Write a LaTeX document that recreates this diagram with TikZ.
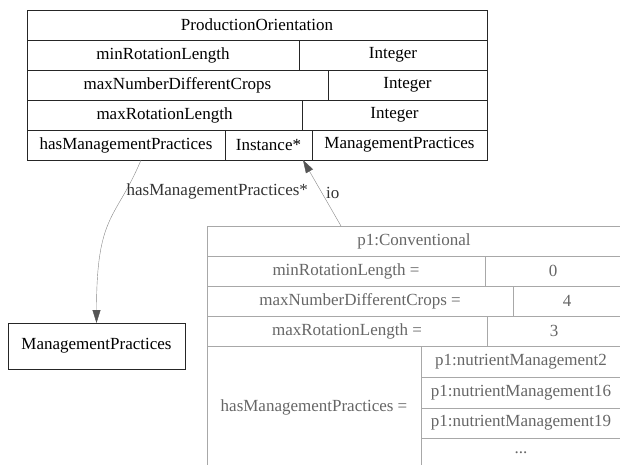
\documentclass[tikz,border=0pt]{standalone}
\usepackage{fontspec}
\setmainfont{Liberation Serif}
\usepackage{xcolor}
\usetikzlibrary{arrows.meta, positioning}

\definecolor{objline}{HTML}{A8A8A8}
\definecolor{objtext}{HTML}{666666}
\definecolor{edgeline}{HTML}{858585}
\definecolor{edgehead}{HTML}{555555}

\begin{document}
\begin{tikzpicture}[x=1pt, y=-1pt, node distance=0pt,
    font=\fontsize{17}{20}\selectfont,
    cell/.style={draw, inner sep=0pt, outer sep=0pt, minimum height=30, anchor=north west},
    cls/.style={cell, draw=black!85, text=black},
    obj/.style={cell, draw=objline, text=objtext},
    edge/.style={draw=edgeline, -{Triangle[length=13pt, width=8pt, color=edgehead]}},
    lbl/.style={text=black!80, inner sep=1pt}]
    \clip (0,0) rectangle (620,464);

    % Class
    \node[cls, minimum width=460] (po) at (27,10) {ProductionOrientation};
    \node[cls, minimum width=272, below=of po.south west, anchor=north west] (minrl) {minRotationLength};
    \node[cls, minimum width=188, right=of minrl] (minrlT) {Integer};
    \node[cls, minimum width=301, below=of minrl.south west, anchor=north west] (maxndc) {maxNumberDifferentCrops};
    \node[cls, minimum width=159, right=of maxndc] (maxndcT) {Integer};
    \node[cls, minimum width=275, below=of maxndc.south west, anchor=north west] (maxrl) {maxRotationLength};
    \node[cls, minimum width=185, right=of maxrl] (maxrlT) {Integer};
    \node[cls, minimum width=198, below=of maxrl.south west, anchor=north west] (hmp) {hasManagementPractices};
    \node[cls, minimum width=87, right=of hmp] (hmpI) {Instance*};
    \node[cls, minimum width=175, right=of hmpI] (hmpT) {ManagementPractices};

    \node[cls, minimum width=177, minimum height=46] (mp) at (8,323) {ManagementPractices};

    % Instance
    \node[obj, minimum width=414] (conv) at (207,226) {p1:Conventional};
    \node[obj, minimum width=278, below=of conv.south west, anchor=north west] (minrlV) {minRotationLength =};
    \node[obj, minimum width=136, right=of minrlV] (minrlN) {0};
    \node[obj, minimum width=306, below=of minrlV.south west, anchor=north west] (maxndcV) {maxNumberDifferentCrops =};
    \node[obj, minimum width=108, right=of maxndcV] (maxndcN) {4};
    \node[obj, minimum width=280, below=of maxndcV.south west, anchor=north west] (maxrlV) {maxRotationLength =};
    \node[obj, minimum width=134, right=of maxrlV] (maxrlN) {3};
    \node[obj, minimum width=214, minimum height=122, below=of maxrlV.south west, anchor=north west] (hmpV) {hasManagementPractices =};
    \node[obj, minimum width=200, minimum height=31, anchor=north west] (nm2) at (hmpV.north east) {p1:nutrientManagement2};
    \node[obj, minimum width=200, minimum height=31, below=of nm2] (nm16) {p1:nutrientManagement16};
    \node[obj, minimum width=200, below=of nm16] (nm19) {p1:nutrientManagement19};
    \node[obj, minimum width=200, text depth=-6pt, below=of nm19] (nmMore) {...};

    % Arrows
    \draw[edge] ([xshift=15]hmp.south) .. controls +(-25,60) and +(0,-110) .. (mp.north)
        node[lbl, pos=0.22, anchor=west] {hasManagementPractices*};
    \draw[edge] ([xshift=-73]conv.north) -- node[lbl, right=3pt] {io} ([xshift=34.5]hmpI.south);
\end{tikzpicture}
\end{document}
